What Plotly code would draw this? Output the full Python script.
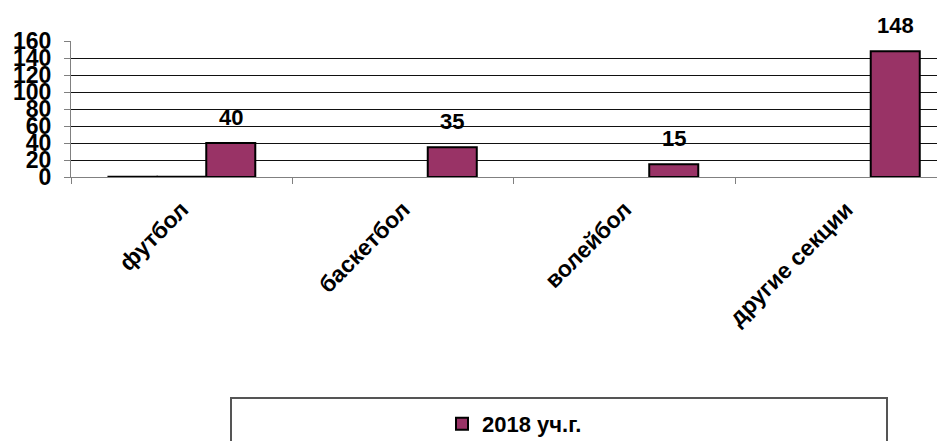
import plotly.graph_objects as go

categories = ["футбол", "баскетбол", "волейбол", "другие секции"]
series_a = [0.5, None, None, None]
series_b = [0.5, None, None, None]
series_2018 = [40, 35, 15, 148]
series_2018_name = "2018 уч.г."
y_ticks = [0, 20, 40, 60, 80, 100, 120, 140, 160]

FONT = "Arial, Liberation Sans, sans-serif"
# page has an 8px body margin; figure coordinates are page - 8
W, H = 937, 433
ML, MR, MT, MB = 63, 0, 33, 264
PW, PH = W - ML - MR, H - MT - MB


def px_x(x):
    return (x - ML) / PW


def px_y(y):
    return (H - MB - y) / PH


fig = go.Figure()
for vals, nm in [(series_a, "s1"), (series_b, "s2")]:
    fig.add_trace(go.Bar(x=categories, y=vals, name=nm, showlegend=False,
                         marker=dict(color="#000000", line=dict(color="#000000", width=1.5)),
                         hoverinfo="skip"))
fig.add_trace(go.Bar(x=categories, y=series_2018, name=series_2018_name,
                     marker=dict(color="#993366", line=dict(color="#000000", width=2))))

for c, v in zip(categories, series_2018):
    fig.add_annotation(x=c, y=v, text=str(v), showarrow=False, xref="x", yref="y",
                       yanchor="bottom", xanchor="center", xshift=49, yshift=11,
                       font=dict(family=FONT, size=22, color="#000", weight="bold"))

# legend frame (decoration)
fig.add_shape(type="rect", xref="paper", yref="paper",
              x0=px_x(223), x1=px_x(879), y0=px_y(460), y1=px_y(390),
              line=dict(color="#555555", width=2), fillcolor="rgba(0,0,0,0)", layer="above")

fig.update_layout(
    width=W, height=H,
    margin=dict(l=ML, r=MR, t=MT, b=MB, autoexpand=False),
    paper_bgcolor="white", plot_bgcolor="white",
    barmode="group", bargap=0.336, bargroupgap=0,
    showlegend=True,
    legend=dict(x=px_x(434), xanchor="left", y=px_y(416), yanchor="middle",
                font=dict(family=FONT, size=22, color="#000", weight="bold"),
                bgcolor="rgba(0,0,0,0)", borderwidth=0),
)
fig.update_xaxes(type="category", range=[-0.5, 3.446], showline=True, linecolor="#808080",
                 linewidth=1, ticks="outside", ticklen=6, tickcolor="#808080",
                 tickson="boundaries", tickangle=-45, showgrid=False, ticklabelstandoff=9,
                 tickfont=dict(family=FONT, size=23, color="#000", weight="bold"))
fig.update_yaxes(range=[0, 160], tickmode="array", tickvals=y_ticks,
                 ticktext=[str(t) for t in y_ticks], showline=True, linecolor="#808080",
                 linewidth=1, ticks="outside", ticklen=6, tickcolor="#808080",
                 showgrid=True, gridcolor="#111111", gridwidth=1, zeroline=False,
                 ticklabelstandoff=8,
                 tickfont=dict(family=FONT, size=23, color="#000", weight="bold"))

fig.write_html("out.html")
